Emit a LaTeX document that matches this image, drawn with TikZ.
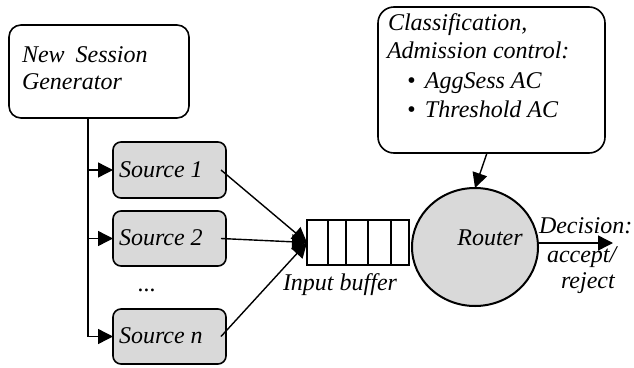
\documentclass[tikz,border=0pt]{standalone}
\usepackage{fontspec}
\setmainfont{Liberation Serif}[ItalicFont={Liberation Serif Italic},BoldFont={Liberation Serif Bold}]
\usetikzlibrary{arrows.meta,shapes.geometric,calc}
\begin{document}
\begin{tikzpicture}[x=1pt,y=-1pt,
  every node/.style={inner sep=0pt,outer sep=0pt},
  lbl/.style={font=\fontsize{24}{28}\selectfont\itshape,anchor=base west},
  wbox/.style={draw,line width=1.6pt,fill=white,anchor=north west},
  srcbox/.style={draw,line width=1.6pt,fill=gray!30,rounded corners=8pt,anchor=north west,minimum width=113pt},
  arr/.style={line width=1.4pt,-{Triangle[length=15pt,width=15pt]}}]
\useasboundingbox (0,0) rectangle (634,367);
% generator
\node[wbox,rounded corners=12pt,minimum width=180pt,minimum height=93pt] (gen) at (9,25) {};
\node[lbl] (gent1) at (22,62) {New\hspace{11pt}Session};
\node[lbl] (gent2) at (22,89) {Generator};
% sources
\node[srcbox,minimum height=56pt] (s1) at (113,142) {};
\node[srcbox,minimum height=55pt] (s2) at (113,211) {};
\node[srcbox,minimum height=55pt] (sn) at (113,309) {};
\node[lbl] (s1t) at (119,177) {Source 1};
\node[lbl] (s2t) at (119,245) {Source 2};
\node[lbl] (snt) at (119,343) {Source n};
\node[lbl,anchor=base] (dots) at (147,291) {...};
% trunk
\coordinate (t0) at ($(gen.south west)+(79,0)$);
\draw[arr] (t0) |- (sn.west);
\draw[arr] (t0 |- s1.west) -- (s1.west);
\draw[arr] (t0 |- s2.west) -- (s2.west);
% buffer
\node[draw,line width=1.6pt,fill=white,anchor=north west,minimum width=102pt,minimum height=45pt] (buf) at (307,220) {};
\foreach \x in {21,39,61,84} \draw[line width=1.6pt] ($(buf.north west)+(\x,0)$) -- ($(buf.south west)+(\x,0)$);
\node[lbl] (buft) at (283,290) {Input buffer};
% source outputs
\coordinate (o1) at ($(s1.east)+(-5,0)$);
\coordinate (o2) at ($(s2.east)+(-5,0)$);
\coordinate (on) at ($(sn.east)+(-5,0)$);
\draw[arr] (o1) -- (buf.west);
\draw[arr] (o2) -- (buf.west);
\draw[arr] (on) -- (buf.west);
% router
\node[ellipse,draw,line width=2pt,fill=gray!30,minimum width=126pt,minimum height=118pt] (router) at (475,247) {};
\node[lbl,anchor=base] (routert) at (490,245) {Router};
% classification box
\node[wbox,rounded corners=16pt,minimum width=227pt,minimum height=146pt] (cls) at (378,7) {};
\node[lbl] (c1) at (388,30) {Classification,};
\node[lbl] (c2) at (387,58) {Admission control:};
\node[lbl] (c3) at (407,88) {\makebox[18pt][l]{\textbullet}AggSess AC};
\node[lbl] (c4) at (407,117) {\makebox[18pt][l]{\textbullet}Threshold AC};
\coordinate (c0) at ($(cls.south west)+(109,0)$);
\draw[arr] (c0) -- (router.north);
% decision
\coordinate (d0) at ($(router.east)+(0,-4)$);
\coordinate (d1) at ($(d0)+(75,0)$);
\draw[arr] (d0) -- (d1);
\node[lbl] (dec1) at (539,233) {Decision:};
\node[lbl] (dec2) at (547,262) {accept/};
\node[lbl] (dec3) at (561,288) {reject};
\end{tikzpicture}
\end{document}
